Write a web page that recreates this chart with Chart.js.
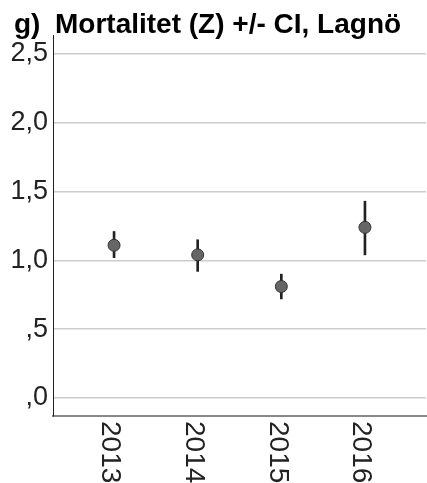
<!DOCTYPE html>
<html>
<head>
<meta charset="utf-8">
<script src="https://cdn.jsdelivr.net/npm/chart.js@4/dist/chart.umd.min.js"></script>
<style>
  body { margin: 0; background: #fff; overflow: hidden; }
  #graph { display: block; }
</style>
</head>
<body>
<canvas id="graph" width="427" height="483"></canvas>
<script>
const years = [2013, 2014, 2015, 2016];
const zMean = [1.11, 1.04, 0.81, 1.24];
const ciLow = [1.02, 0.92, 0.72, 1.04];
const ciHigh = [1.21, 1.15, 0.90, 1.43];

const FONT = "'Liberation Sans', Arial, sans-serif";

// title drawn like SPSS: panel letter then the heading
const titlePlugin = {
    id: 'panelTitle',
    afterDraw(chart) {
        const ctx = chart.ctx;
        ctx.save();
        ctx.fillStyle = '#000';
        ctx.font = 'bold 28px ' + FONT;
        ctx.textBaseline = 'alphabetic';
        ctx.fillText('g)', 14, 33);
        ctx.fillText('Mortalitet (Z) +/- CI, Lagnö', 55, 33);
        ctx.restore();
    }
};

// x labels read top to bottom
const yearLabels = {
    id: 'yearLabels',
    afterDraw(chart) {
        const ctx = chart.ctx;
        const xs = chart.scales.x;
        ctx.save();
        ctx.fillStyle = '#222';
        ctx.font = '28px ' + FONT;
        ctx.textAlign = 'left';
        ctx.textBaseline = 'middle';
        years.forEach(function(yr) {
            ctx.save();
            ctx.translate(xs.getPixelForValue(yr) - 4, xs.top + 5);
            ctx.rotate(Math.PI / 2);
            ctx.fillText(String(yr), 0, 0);
            ctx.restore();
        });
        ctx.restore();
    }
};

new Chart(
    document.querySelector('#graph'),
{
    data: {
        datasets: [{
            type: 'scatter',
            label: 'Z',
            data: years.map((y, i) => ({x: y, y: zMean[i]})),
            backgroundColor: '#666',
            borderColor: '#333',
            borderWidth: 1,
            pointRadius: 6,
            order: 0
        },
        {
            type: 'bar',
            label: 'CI',
            data: years.map((y, i) => ({x: y, y: [ciLow[i], ciHigh[i]]})),
            backgroundColor: '#222',
            borderWidth: 0,
            barThickness: 2,
            order: 1
        }]
    },
    options: {
        responsive: false,
        animation: false,
        layout: {
            autoPadding: false,
            padding: {top: 35, right: 1, left: 0, bottom: 0}
        },
        plugins: {
            legend: {display: false},
            tooltip: {enabled: false}
        },
        scales: {
            x: {
                type: 'linear',
                offset: false,
                min: 2012.27,
                max: 2016.73,
                grid: {display: false},
                border: {color: '#888', width: 2},
                ticks: {display: false},
                afterFit(scale) { scale.height = 67; }
            },
            y: {
                type: 'linear',
                min: -0.131,
                max: 2.638,
                grid: {color: '#ccc', lineWidth: 1.5, drawTicks: false},
                border: {color: '#222', width: 1},
                ticks: {
                    stepSize: 0.5,
                    includeBounds: false,
                    padding: 5,
                    color: '#222',
                    font: {family: FONT, size: 27},
                    callback: function(v) {
                        let s = v.toFixed(1).replace('.', ',');
                        if (s.startsWith('0')) s = s.slice(1);
                        return s;
                    }
                },
                afterFit(scale) { scale.width = 53; }
            }
        }
    },
    plugins: [titlePlugin, yearLabels]
});
</script>
</body>
</html>
